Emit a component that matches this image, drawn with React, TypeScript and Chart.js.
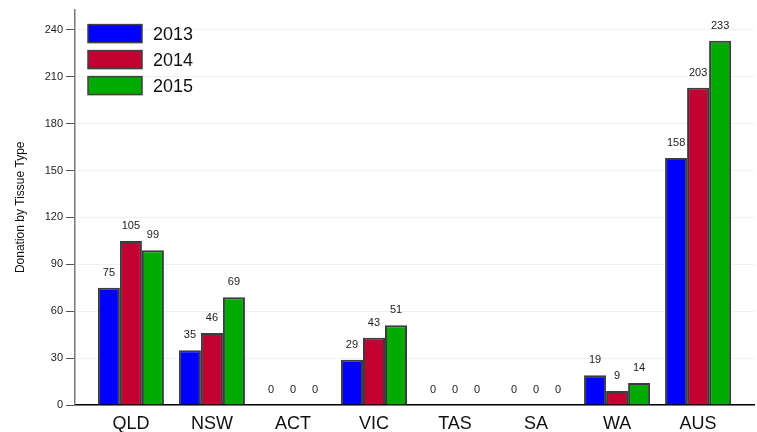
import React, { useEffect, useRef } from 'react';
import { Chart, registerables } from 'chart.js';

Chart.register(...registerables);

const categories = ['QLD', 'NSW', 'ACT', 'VIC', 'TAS', 'SA', 'WA', 'AUS'];
const seriesNames = ['2013', '2014', '2015'];
const values2013 = [75, 35, 0, 29, 0, 0, 19, 158];
const values2014 = [105, 46, 0, 43, 0, 0, 9, 203];
const values2015 = [99, 69, 0, 51, 0, 0, 14, 233];
const yTicks = [0, 30, 60, 90, 120, 150, 180, 210, 240];
const yTitle = 'Donation by Tissue Type';
const seriesColors = ['#0000ff', '#c30032', '#00aa00'];

const FONT = "'Liberation Sans', Arial, Helvetica, sans-serif";

const valueLabelPlugin = {
  id: 'valueLabels',
  afterDatasetsDraw(chart: any) {
    const ctx = chart.ctx;
    ctx.save();
    ctx.font = `11px ${FONT}`;
    ctx.fillStyle = '#222222';
    ctx.textAlign = 'center';
    ctx.textBaseline = 'alphabetic';
    chart.data.datasets.forEach((ds: any, di: number) => {
      const meta = chart.getDatasetMeta(di);
      meta.data.forEach((el: any, i: number) => {
        const v = ds.data[i].y;
        ctx.fillText(String(v), el.x, el.y - 12);
      });
    });
    ctx.restore();
  },
};

const insideLegendPlugin = {
  id: 'insideLegend',
  afterDraw(chart: any) {
    const ctx = chart.ctx;
    const area = chart.chartArea;
    const x0 = area.left + 13;
    const y0 = area.top + 15;
    ctx.save();
    chart.data.datasets.forEach((ds: any, i: number) => {
      const y = y0 + i * 26;
      ctx.fillStyle = ds.backgroundColor;
      ctx.fillRect(x0, y, 54, 18);
      ctx.strokeStyle = '#404040';
      ctx.lineWidth = 1.5;
      ctx.strokeRect(x0, y, 54, 18);
      ctx.fillStyle = '#111111';
      ctx.font = `18px ${FONT}`;
      ctx.textAlign = 'left';
      ctx.textBaseline = 'middle';
      ctx.fillText(ds.label, x0 + 65, y + 10);
    });
    ctx.restore();
  },
};

export default function App() {
  const canvasRef = useRef<HTMLCanvasElement | null>(null);

  useEffect(() => {
    document.body.style.margin = '0';
    const canvas = canvasRef.current;
    if (!canvas) return;
    const allValues = [values2013, values2014, values2015];
    const chart = new Chart(canvas, {
      type: 'bar',
      data: {
        datasets: allValues.map((vals, si) => ({
          label: seriesNames[si],
          data: vals.map((v, i) => ({ x: i, y: v })),
          backgroundColor: seriesColors[si],
          borderColor: '#3c3c3c',
          borderWidth: 2,
          categoryPercentage: 0.815,
          barPercentage: 1.0,
        })),
      },
      options: {
        responsive: false,
        animation: false,
        devicePixelRatio: 1,
        layout: { padding: { top: 8, right: 3, left: 0, bottom: 0 } },
        plugins: {
          legend: { display: false },
          tooltip: { enabled: false },
        },
        scales: {
          x: {
            type: 'linear',
            offset: false,
            min: -0.69,
            max: 7.69,
            afterBuildTicks: (scale: any) => {
              scale.ticks = categories.map((_, i) => ({ value: i }));
            },
            afterFit: (scale: any) => {
              scale.height = 27;
            },
            grid: { display: false, drawTicks: false, offset: false },
            border: { display: true, color: '#000000', width: 1.5 },
            ticks: {
              autoSkip: false,
              maxRotation: 0,
              padding: 8,
              color: '#111111',
              font: { family: FONT, size: 18 },
              callback: (v: any) => categories[Math.round(Number(v))] ?? '',
            },
          },
          y: {
            type: 'linear',
            min: 0,
            max: 253,
            afterBuildTicks: (scale: any) => {
              scale.ticks = yTicks.map((v) => ({ value: v }));
            },
            afterFit: (scale: any) => {
              scale.width = 75;
            },
            grid: {
              color: '#edf1f2',
              lineWidth: 1,
              drawTicks: true,
              tickLength: 9,
              tickColor: '#555555',
            },
            border: { display: true, color: '#777777', width: 1.5 },
            ticks: {
              padding: 3,
              color: '#222222',
              font: { family: FONT, size: 11 },
            },
            title: {
              display: true,
              text: yTitle,
              color: '#111111',
              font: { family: FONT, size: 12 },
              padding: { top: 13, bottom: 0 },
            },
          },
        },
      },
      plugins: [valueLabelPlugin, insideLegendPlugin],
    } as any);
    return () => chart.destroy();
  }, []);

  return (
    <div style={{ width: 757, height: 432 }}>
      <canvas ref={canvasRef} width={757} height={432} style={{ display: 'block' }} />
    </div>
  );
}
